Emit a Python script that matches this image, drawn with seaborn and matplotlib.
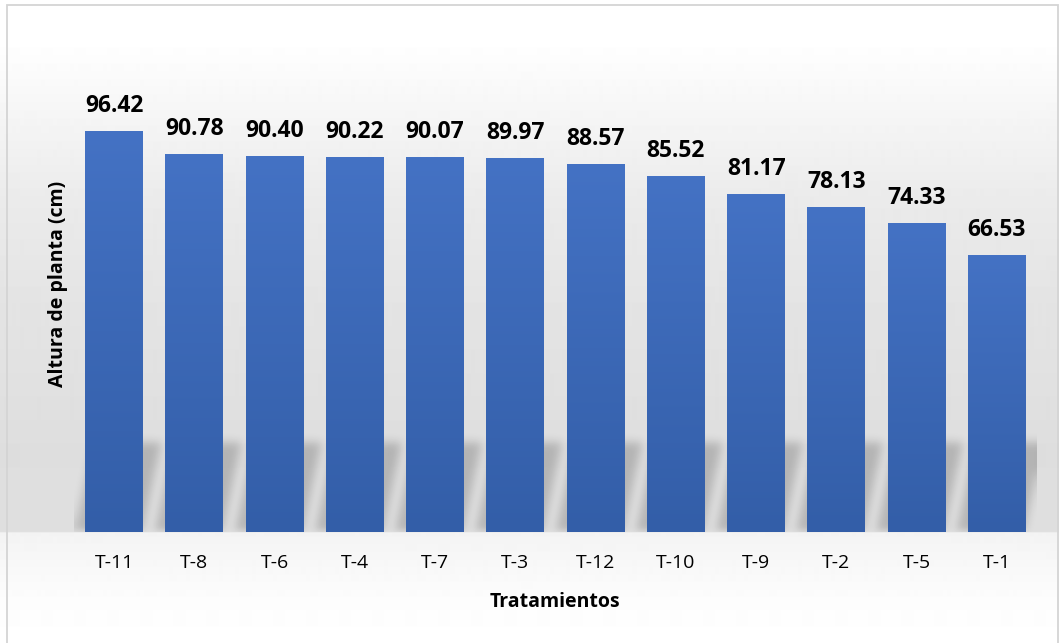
import numpy as np
import matplotlib
matplotlib.use('Agg')
import matplotlib.pyplot as plt
import seaborn as sns
from matplotlib.colors import LinearSegmentedColormap
from matplotlib.patches import Rectangle

# datos
tratamientos = ['T-11', 'T-8', 'T-6', 'T-4', 'T-7', 'T-3', 'T-12', 'T-10', 'T-9', 'T-2', 'T-5', 'T-1']
altura = [96.42, 90.78, 90.40, 90.22, 90.07, 89.97, 88.57, 85.52, 81.17, 78.13, 74.33, 66.53]

sns.set_theme(style='white')
plt.rcParams['font.family'] = ['Open Sans', 'DejaVu Sans']

W, H = 1059, 643
fig = plt.figure(figsize=(W / 100, H / 100), dpi=100)

# fondo con degradado vertical (estilo Excel)
bg = fig.add_axes([0, 0, 1, 1], zorder=-10)
rows = np.arange(H)
shade = np.interp(rows,
                  [0, 40, 150, 200, 300, 450, 531, 532.5, 600, 643],
                  [1, 1, .945, .92, .895, .87, .875, .955, .99, 1])
bg.imshow(shade[:, None], cmap='gray', vmin=0, vmax=1, aspect='auto',
          extent=(0, 1, 0, 1), interpolation='bilinear')
bg.add_patch(Rectangle((7 / W, -0.01), (1058 - 7) / W, 1.01 - 5 / H,
                       facecolor='none', edgecolor='#d4d4d4', lw=1.3))
bg.set_xlim(0, 1)
bg.set_ylim(0, 1)
bg.set_axis_off()

# ejes principales
px_per_unit = 4.16
ax = fig.add_axes([74 / W, 111 / H, 963 / W, 512 / H])
ax.patch.set_alpha(0)
ymax = 512 / px_per_unit

sns.barplot(x=tratamientos, y=altura, color='#335ea8', saturation=1,
            width=0.72, ax=ax, zorder=2, linewidth=0, edgecolor='none')

# degradado dentro de cada barra
bar_cmap = LinearSegmentedColormap.from_list('barra', ['#335ea8', '#4472c4'])
grad = np.linspace(0, 1, 256)[:, None]
for patch in ax.patches:
    x0, y0 = patch.get_x(), patch.get_y()
    w, h = patch.get_width(), patch.get_height()
    im = ax.imshow(grad, cmap=bar_cmap, origin='lower', aspect='auto',
                   extent=(x0, x0 + w, y0, y0 + h), zorder=3,
                   interpolation='bilinear')
    im.set_clip_path(patch)

# sombra reflejada detras de las barras
ys_top = 30
xs = np.linspace(-0.5, 11.5, 963)
ys = np.linspace(0, ys_top, int(ys_top * px_per_unit))
X, Y = np.meshgrid(xs, ys)
mask = np.zeros_like(X)
for i, v in enumerate(altura):
    centro = i - 0.075 + 0.011 * Y
    mask[(np.abs(X - centro) < 0.42) & (Y < min(21.5, v))] = 1.0


def suavizar(a, r):
    k = np.ones(2 * r + 1) / (2 * r + 1)
    a = np.pad(a, ((0, 0), (r, r)), mode='edge')
    a = np.apply_along_axis(lambda m: np.convolve(m, k, mode='valid'), 1, a)
    a = np.pad(a, ((r, r), (0, 0)), mode='constant')
    a = np.apply_along_axis(lambda m: np.convolve(m, k, mode='valid'), 0, a)
    return a


for _ in range(3):
    mask = suavizar(mask, 4)

sombra = np.zeros(mask.shape + (4,))
sombra[..., 3] = 0.19 * mask
ax.imshow(sombra, origin='lower', aspect='auto',
          extent=(-0.5, 11.5, 0, ys_top), zorder=1, interpolation='bilinear')

# etiquetas de valor
for i, v in enumerate(altura):
    ax.annotate(f'{v:.2f}', (i, v), xytext=(0, 13.7), textcoords='offset points',
                ha='center', va='baseline', fontsize=16.5, fontweight='bold',
                color='black', zorder=5)

ax.set_xlim(-0.5, 11.5)
ax.set_ylim(0, ymax)
ax.set_yticks([])
ax.set_xlabel('')
ax.set_ylabel('')
ax.tick_params(axis='x', length=0, pad=16, labelsize=14, labelcolor='black')
for s in ax.spines.values():
    s.set_visible(False)

fig.text(555 / W, (H - 607) / H, 'Tratamientos', ha='center', va='baseline',
         fontsize=14, fontweight='bold', color='black')
fig.text(58 / W, 1 - 284 / H, 'Altura de planta (cm)', rotation=90,
         ha='center', va='center', fontsize=14, fontweight='bold', color='black')

fig.savefig('out.png', dpi=100)
